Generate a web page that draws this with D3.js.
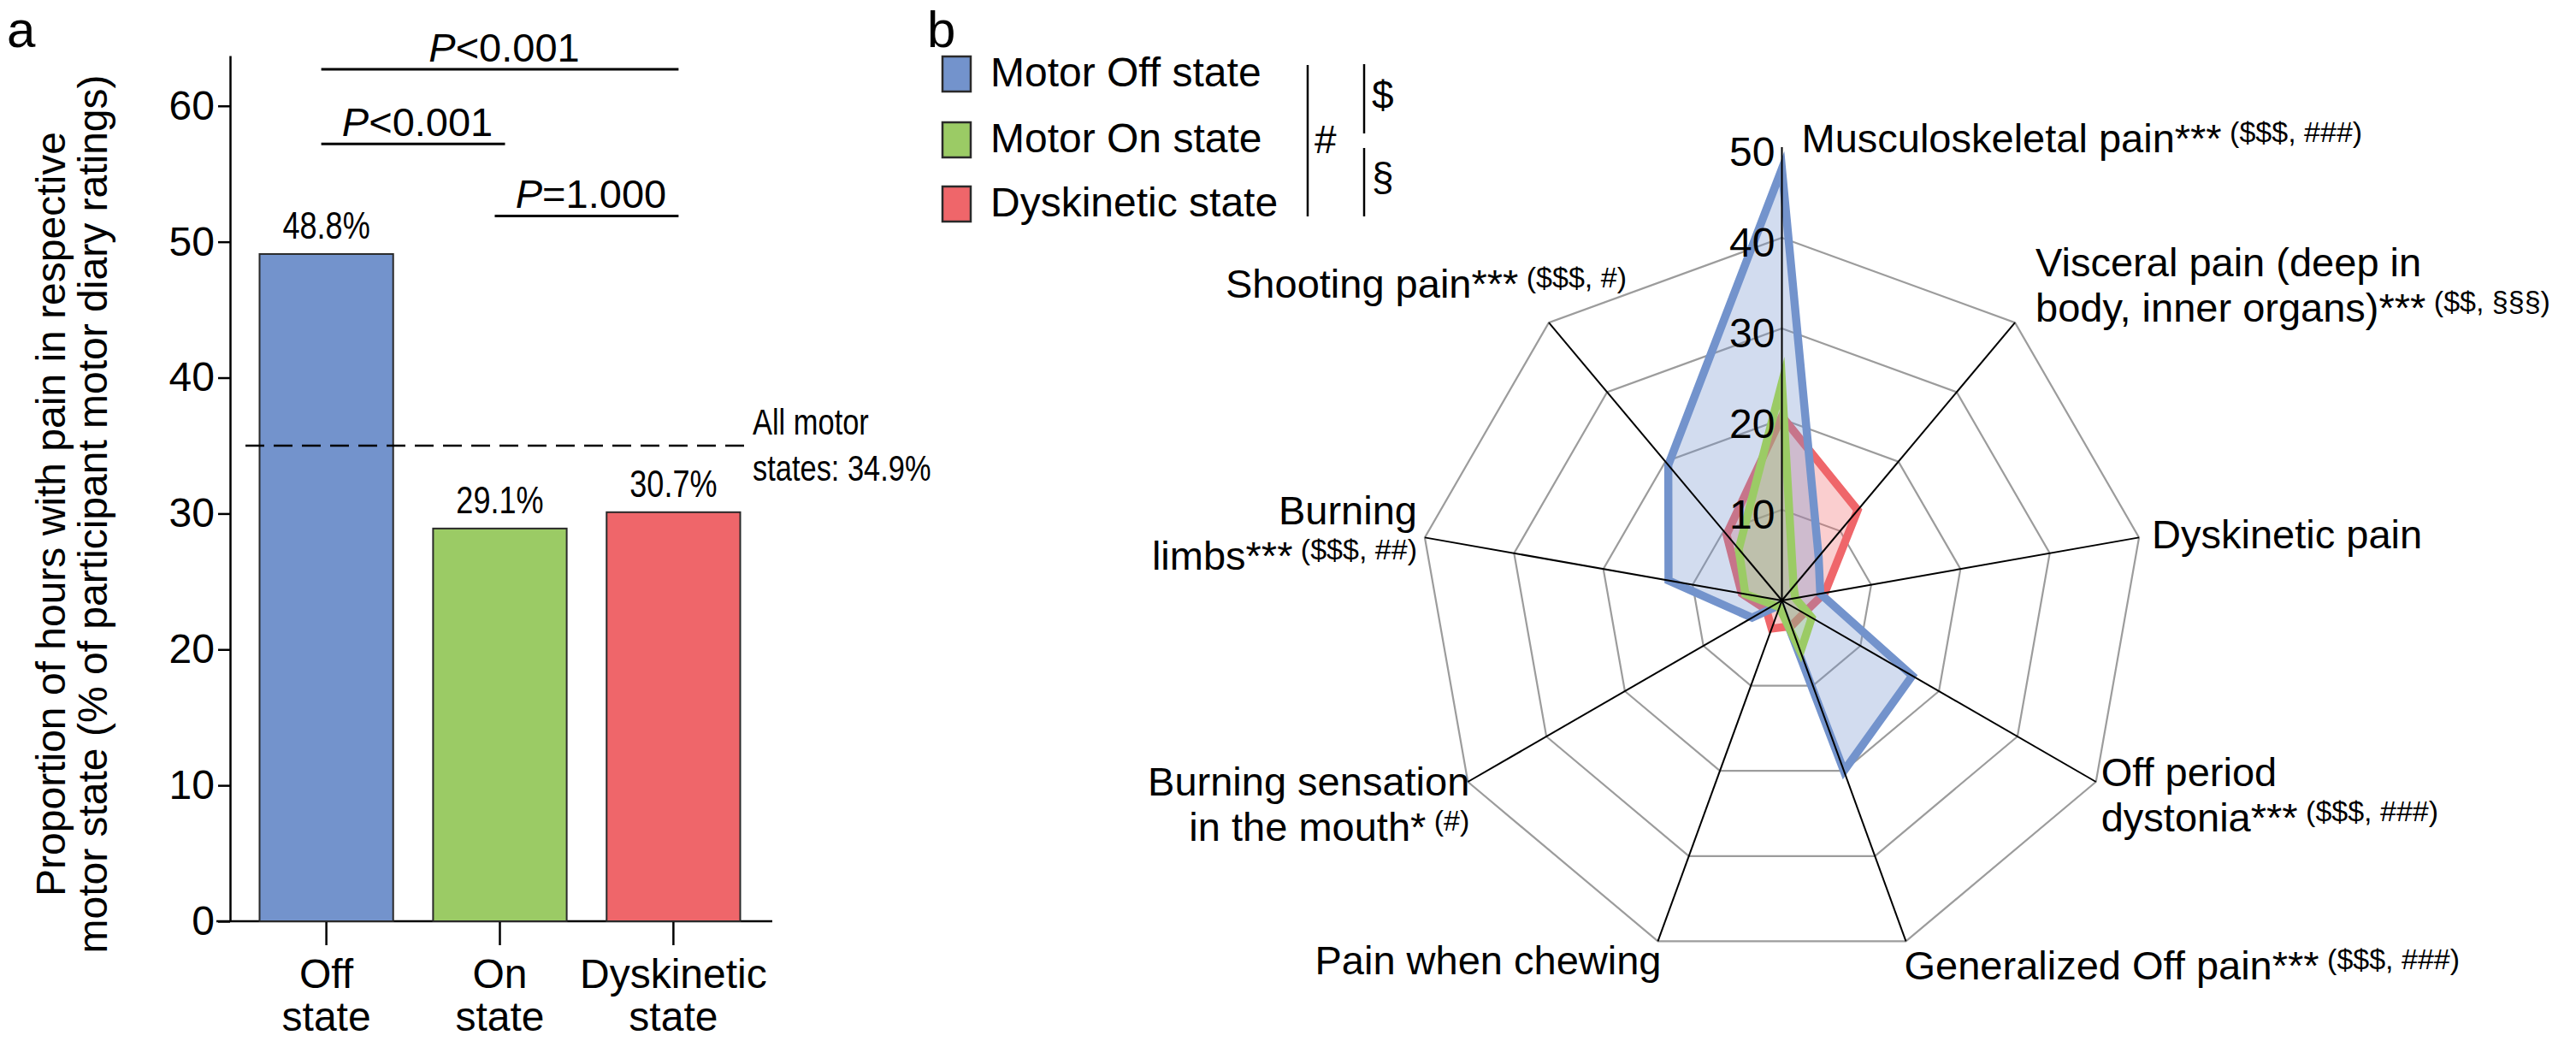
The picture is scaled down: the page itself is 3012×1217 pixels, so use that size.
<!DOCTYPE html>
<html>
<head>
<meta charset="utf-8">
<script src="https://cdn.jsdelivr.net/npm/d3@7"></script>
<style>
  body { margin: 0; background: #fff; }
  svg { display: block; }
</style>
</head>
<body>
<svg id="chart" width="3012" height="1217"></svg>
<script>
// ---------- data: panel a ----------
const stateNames = ["Off", "On", "Dyskinetic"];
const stateValues = [49.1, 28.9, 30.1];
const stateLabels = ["48.8%", "29.1%", "30.7%"];
const allStatesValue = 35.0;
const allStatesText = ["All motor", "states: 34.9%"];
const barTicks = [0, 10, 20, 30, 40, 50, 60];
const comparePairs = [[0, 2], [0, 1], [1, 2]];
const compareText = ["<0.001", "<0.001", "=1.000"];

// ---------- data: panel b ----------
const painTypes = [
  "Musculoskeletal pain", "Visceral pain", "Dyskinetic pain", "Off period dystonia",
  "Generalized Off pain", "Pain when chewing", "Burning sensation in the mouth",
  "Burning limbs", "Shooting pain"
];
const offValues = [47.6, 6.3, 4.3, 16.6, 20.0, 0.5, 3.8, 12.7, 19.5];
const onValues  = [24.0, 2.0, 1.5, 3.8, 6.0, 0.8, 1.0, 4.1, 7.4];
const dysValues = [20.3, 13.0, 4.8, 2.8, 3.0, 3.3, 2.0, 4.5, 9.5];
const seriesNames = ["Motor Off state", "Motor On state", "Dyskinetic state"];
const radarTicks = [10, 20, 30, 40, 50];
const ringValues = [10, 20, 30, 40];
// label lines: [main text, superscript]
const painLabels = [
  [["Musculoskeletal pain***", "($$$, ###)"]],
  [["Visceral pain (deep in", ""], ["body, inner organs)***", "($$, §§§)"]],
  [["Dyskinetic pain", ""]],
  [["Off period", ""], ["dystonia***", "($$$, ###)"]],
  [["Generalized Off pain***", "($$$, ###)"]],
  [["Pain when chewing", ""]],
  [["Burning sensation", ""], ["in the mouth*", "(#)"]],
  [["Burning", ""], ["limbs***", "($$$, ##)"]],
  [["Shooting pain***", "($$$, #)"]]
];

// ---------- styles / layout ----------
const FONT = "'Liberation Sans', Arial, Helvetica, sans-serif";
const colors = ["#7393cc", "#9bcb65", "#ef666a"];
const labelOffsets = [ // dx, dy from outer vertex, anchor
  [23, -100, "start"], [24, -54, "start"], [15, 13, "start"], [6, 5, "start"],
  [-2, 45, "start"], [4, 39, "end"], [2, 16, "end"], [-9, -15, "end"], [91, -29, "end"]
];
const bracketLevels = [62.7, 57.2, 51.9];

const svg = d3.select("#chart").attr("font-family", FONT);

function narrow(g, x, yy, str, size, anchor) {
  return g.append("text")
    .attr("transform", "translate(" + x + "," + yy + ") scale(0.82,1)")
    .attr("text-anchor", anchor || "start")
    .attr("font-size", size)
    .text(str);
}

// ================= panel a =================
const ga = svg.append("g");

ga.append("text").attr("x", 8).attr("y", 55).attr("font-size", 60).text("a");

const y = d3.scaleLinear().domain([0, 63.7]).range([1077, 65]);
const x = d3.scaleBand().domain(stateNames).range([269, 900])
  .paddingInner(0.23).paddingOuter(0.17);

ga.append("g")
  .attr("transform", "translate(269,0)")
  .call(d3.axisLeft(y).tickValues(barTicks).tickSize(14).tickSizeOuter(0).tickPadding(4))
  .call(g => g.selectAll("text").attr("font-size", 48).attr("font-family", FONT).attr("fill", "#000"))
  .call(g => g.selectAll("line,path").attr("stroke", "#000").attr("stroke-width", 2.5));

ga.append("g")
  .attr("transform", "translate(0," + y(0) + ")")
  .call(d3.axisBottom(x).tickSize(28).tickSizeOuter(0).tickFormat(""))
  .call(g => g.select(".domain").remove())
  .call(g => g.selectAll("line").attr("stroke", "#000").attr("stroke-width", 2.5));

ga.append("line")
  .attr("x1", 269 - 16).attr("x2", x.range()[1] + 3)
  .attr("y1", y(0)).attr("y2", y(0))
  .attr("stroke", "#000").attr("stroke-width", 2.5);

// y title
const yt = ga.append("text")
  .attr("transform", "rotate(-90)")
  .attr("text-anchor", "middle")
  .attr("font-size", 48);
yt.append("tspan").attr("x", -601).attr("y", 76).text("Proportion of hours with pain in respective");
yt.append("tspan").attr("x", -601).attr("y", 125).text("motor state (% of participant motor diary ratings)");

// bars
ga.selectAll("rect.bar").data(stateNames).join("rect")
  .attr("class", "bar")
  .attr("x", d => x(d))
  .attr("width", x.bandwidth())
  .attr("y", (d, i) => y(stateValues[i]))
  .attr("height", (d, i) => y(0) - y(stateValues[i]))
  .attr("fill", (d, i) => colors[i])
  .attr("stroke", "#2a2a2a")
  .attr("stroke-width", 2);

stateNames.forEach((d, i) => {
  const cxb = x(d) + x.bandwidth() / 2;
  narrow(ga, cxb, y(stateValues[i]) - 18, stateLabels[i], 44, "middle");
  ga.append("text").attr("x", cxb).attr("y", 1155).attr("text-anchor", "middle")
    .attr("font-size", 48).text(d);
  ga.append("text").attr("x", cxb).attr("y", 1205).attr("text-anchor", "middle")
    .attr("font-size", 48).text("state");
});

// all motor states line
ga.append("line")
  .attr("x1", 287).attr("x2", 870)
  .attr("y1", y(allStatesValue)).attr("y2", y(allStatesValue))
  .attr("stroke", "#000").attr("stroke-width", 2.5)
  .attr("stroke-dasharray", "22,11");
narrow(ga, 880, y(allStatesValue) - 13, allStatesText[0], 42);
narrow(ga, 880, y(allStatesValue) + 41, allStatesText[1], 42);

// significance brackets
comparePairs.forEach((p, k) => {
  const x1 = x(stateNames[p[0]]) + x.bandwidth() / 2 - 6;
  const x2 = x(stateNames[p[1]]) + x.bandwidth() / 2 + 6;
  const yy = y(bracketLevels[k]);
  ga.append("line").attr("x1", x1).attr("x2", x2).attr("y1", yy).attr("y2", yy)
    .attr("stroke", "#000").attr("stroke-width", 3);
  const t = ga.append("text").attr("x", (x1 + x2) / 2 + 5).attr("y", yy - 9)
    .attr("text-anchor", "middle").attr("font-size", 47);
  t.append("tspan").attr("font-style", "italic").text("P");
  t.append("tspan").text(compareText[k]);
});

// ================= panel b =================
svg.append("text").attr("x", 1084).attr("y", 55).attr("font-size", 60).text("b");

// legend
const lg = svg.append("g");
const legendY = [86, 163, 238];
seriesNames.forEach((s, i) => {
  lg.append("rect").attr("x", 1102).attr("y", legendY[i] - 20).attr("width", 33).attr("height", 41)
    .attr("fill", colors[i]).attr("stroke", "#2a2a2a").attr("stroke-width", 2.5);
  lg.append("text").attr("x", 1158).attr("y", legendY[i] + 15).attr("font-size", 48).text(s);
});
lg.append("line").attr("x1", 1529).attr("x2", 1529).attr("y1", 76).attr("y2", 253)
  .attr("stroke", "#000").attr("stroke-width", 2.5);
lg.append("text").attr("x", 1537).attr("y", 179).attr("font-size", 46).text("#");
lg.append("line").attr("x1", 1595).attr("x2", 1595).attr("y1", 75).attr("y2", 156)
  .attr("stroke", "#000").attr("stroke-width", 2.5);
lg.append("line").attr("x1", 1595).attr("x2", 1595).attr("y1", 173).attr("y2", 253)
  .attr("stroke", "#000").attr("stroke-width", 2.5);
lg.append("text").attr("x", 1604).attr("y", 127).attr("font-size", 46).text("$");
lg.append("text").attr("x", 1604).attr("y", 223).attr("font-size", 46).text("§");

// radar
const cx = 2083.5, cy = 702;
const gb = svg.append("g").attr("transform", "translate(" + cx + "," + cy + ")");
const rr = d3.scaleLinear().domain([0, 40]).range([0, 424]);
const ang = d3.scaleLinear().domain([0, painTypes.length]).range([0, 2 * Math.PI]);
const radial = d3.lineRadial()
  .angle((d, i) => ang(i))
  .radius(d => rr(d))
  .curve(d3.curveLinearClosed);

gb.selectAll("path.ring").data(ringValues).join("path")
  .attr("class", "ring")
  .attr("d", v => radial(painTypes.map(() => v)))
  .attr("fill", "none").attr("stroke", "#9c9c9c").attr("stroke-width", 2.2);

const series = [
  { values: dysValues, color: colors[2] },
  { values: offValues, color: colors[0] },
  { values: onValues, color: colors[1] }
];
gb.selectAll("path.area").data(series).join("path")
  .attr("class", "area")
  .attr("d", d => radial(d.values))
  .attr("fill", d => d.color).attr("fill-opacity", 0.32)
  .attr("stroke", d => d.color).attr("stroke-width", 9.5)
  .attr("stroke-linejoin", "miter").attr("stroke-miterlimit", 10);

painTypes.forEach((p, i) => {
  const end = d3.pointRadial(ang(i), rr(i === 0 ? 50 : 40));
  gb.append("line").attr("x1", 0).attr("y1", 0).attr("x2", end[0]).attr("y2", end[1])
    .attr("stroke", "#000").attr("stroke-width", 2);
});

gb.selectAll("text.tick").data(radarTicks).join("text")
  .attr("class", "tick")
  .attr("x", -8).attr("y", d => -rr(d) + 5).attr("dy", "0.35em")
  .attr("text-anchor", "end").attr("font-size", 48).text(d => d);

painLabels.forEach((lines, i) => {
  const v = d3.pointRadial(ang(i), rr(40));
  const o = labelOffsets[i];
  lines.forEach((ln, k) => {
    const t = gb.append("text")
      .attr("x", v[0] + o[0]).attr("y", v[1] + o[1] + k * 53)
      .attr("text-anchor", o[2]).attr("font-size", 47);
    t.append("tspan").text(ln[0]);
    if (ln[1]) {
      t.append("tspan").attr("font-size", 34).attr("dy", -12).text("\u00a0" + ln[1]);
    }
  });
});
</script>
</body>
</html>
